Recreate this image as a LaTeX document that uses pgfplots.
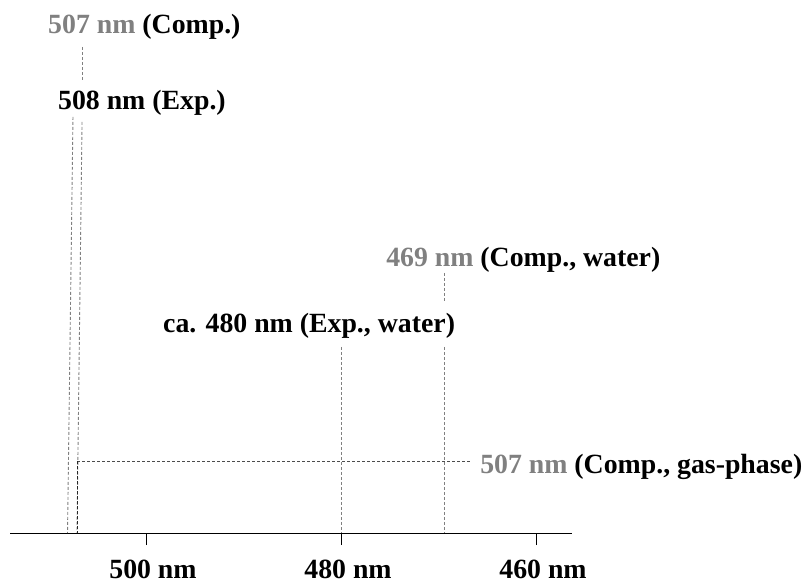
\documentclass[border=0pt]{standalone}
\usepackage{fontspec}
\setmainfont{Liberation Serif}
\usepackage{pgfplots}
\pgfplotsset{compat=1.18}
\definecolor{txtgray}{HTML}{808080}
\definecolor{lngray}{HTML}{808080}
\begin{document}
\begin{tikzpicture}
\useasboundingbox (-10bp,-55bp) rectangle (796bp,533bp);
\begin{axis}[
  scale only axis, width=562bp, height=533bp,
  x dir=reverse, xmin=456.31, xmax=513.95, ymin=0, ymax=533,
  axis x line=bottom, axis y line=none,
  x axis line style={-, line width=0.9bp},
  xtick={460,480,500}, xticklabels={460 nm,480 nm,500 nm},
  tick align=outside, major tick length=12bp,
  tick style={black, line width=0.9bp},
  xticklabel style={font=\fontsize{27.8bp}{33bp}\selectfont\bfseries, anchor=base, inner sep=0pt, yshift=-33bp, xshift=7bp},
  clip=false,
  dl/.style={no markers, line width=0.9bp, dash pattern=on 3bp off 2bp, lngray},
]
% 508 nm (Exp.)
\addplot[dl] coordinates {(507.49,416) (508.05,0)};
% 507 nm (Comp.)
\addplot[dl] coordinates {(506.56,411) (507.08,0)};
\addplot[dl] coordinates {(506.49,486) (506.49,453)};
% ca. 480 nm (Exp., water)
\addplot[dl] coordinates {(480.0,186) (480.0,0)};
% 469 nm (Comp., water)
\addplot[dl] coordinates {(469.44,260) (469.44,231)};
\addplot[dl] coordinates {(469.44,186) (469.44,0)};
% 507 nm gas-phase
\addplot[dl, color=black!70] coordinates {(507.05,72) (466.77,72)};
\addplot[dl, color=black!85] coordinates {(507.05,72) (507.05,0)};

\begin{scope}[every node/.style={font=\fontsize{27.8bp}{33bp}\selectfont\bfseries, anchor=base west, inner sep=0pt}]
\node at (axis cs:510.05,499) {\textcolor{txtgray}{507 nm} (Comp.)};
\node at (axis cs:509.03,423) {508 nm (Exp.)};
\node at (axis cs:475.38,266) {\textcolor{txtgray}{469 nm} (Comp., water)};
\node at (axis cs:498.26,200) {ca. 480 nm (Exp., water)};
\node at (axis cs:465.74,60) {\textcolor{txtgray}{507 nm} (Comp., gas-phase)};
\end{scope}
\end{axis}
\end{tikzpicture}
\end{document}
